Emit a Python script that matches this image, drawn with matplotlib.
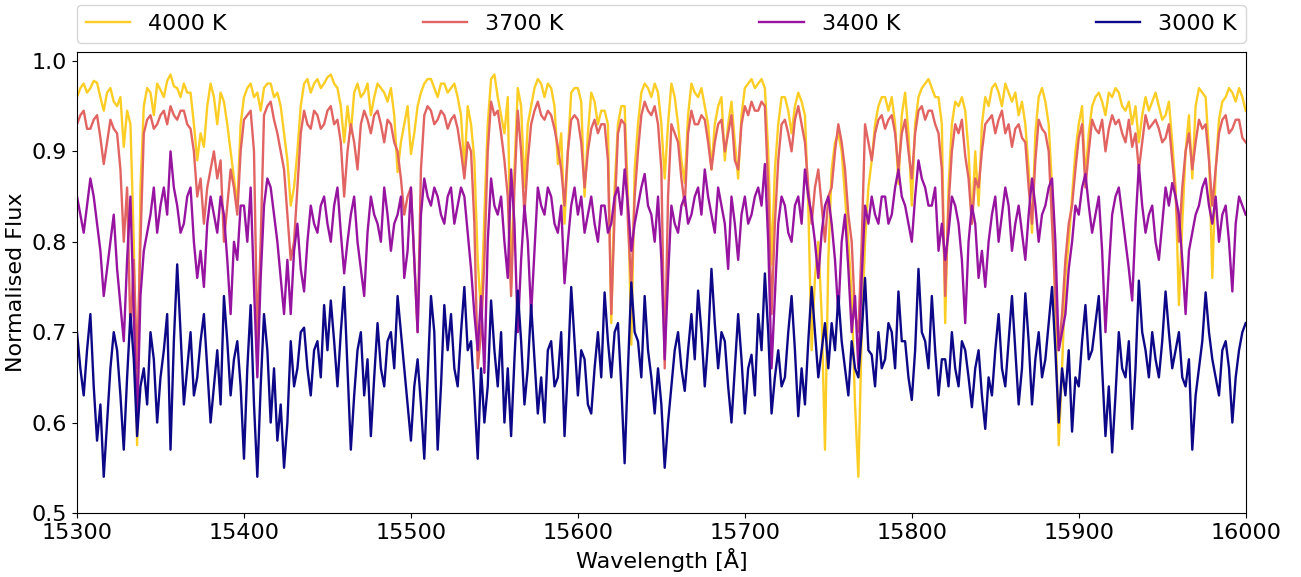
import numpy as np
import matplotlib
matplotlib.use('Agg')
import matplotlib.pyplot as plt

# wavelength grid in Angstrom (2 A step)
wavelength = np.arange(15300, 16001, 2)

labels = ['4000 K', '3700 K', '3400 K', '3000 K']
colors = ['#fccd25', '#e16462', '#9714a0', '#0d0887']

# one row per 100 A
flux_4000 = [
    .96, .97, .975, .965, .97, .978, .976, .96, .945, .965, .97, .955, .95, .96, .905, .945, .93, .80, .575, .86, .95, .97, .965, .94, .975, .968, .96, .978, .985, .972, .97, .96, .975, .965, .965, .93, .89, .92, .905, .95, .975, .96, .93, .965, .955, .93, .90, .87, .84, .93,
    .96, .97, .975, .96, .965, .945, .97, .975, .975, .96, .965, .95, .92, .89, .84, .86, .90, .95, .975, .98, .965, .975, .98, .97, .975, .982, .985, .975, .97, .95, .91, .95, .92, .965, .975, .96, .965, .975, .94, .96, .975, .97, .965, .955, .97, .94, .877, .91, .93, .95,
    .897, .92, .95, .965, .975, .98, .98, .97, .96, .975, .975, .965, .97, .975, .96, .94, .88, .95, .93, .89, .78, .72, .83, .93, .98, .985, .96, .94, .92, .96, .75, .88, .97, .95, .86, .93, .95, .97, .98, .975, .96, .975, .97, .95, .886, .92, .82, .90, .965, .97,
    .97, .955, .85, .92, .965, .955, .93, .945, .945, .93, .71, .86, .93, .95, .95, .85, .686, .88, .93, .965, .975, .97, .96, .975, .965, .93, .87, .93, .975, .96, .93, .89, .865, .94, .975, .965, .96, .97, .95, .93, .88, .93, .95, .96, .89, .93, .955, .91, .87, .94,
    .97, .975, .98, .97, .975, .98, .97, .90, .775, .88, .93, .96, .96, .945, .92, .95, .965, .955, .94, .84, .68, .76, .80, .72, .57, .78, .88, .91, .92, .90, .85, .80, .74, .62, .54, .70, .80, .86, .89, .93, .95, .96, .96, .945, .96, .93, .864, .94, .965, .92,
    .84, .93, .96, .97, .975, .98, .97, .96, .96, .93, .71, .86, .93, .955, .95, .96, .945, .90, .82, .90, .84, .93, .96, .95, .97, .975, .965, .95, .975, .965, .955, .965, .94, .955, .93, .88, .81, .92, .96, .97, .955, .93, .86, .72, .575, .66, .76, .80, .85, .90,
    .93, .95, .87, .92, .95, .96, .965, .955, .94, .965, .96, .97, .965, .95, .945, .955, .93, .95, .91, .94, .96, .945, .955, .965, .95, .935, .94, .955, .91, .86, .73, .82, .90, .94, .87, .95, .97, .965, .96, .90, .76, .88, .935, .955, .96, .97, .965, .955, .97, .96, .945,
]

flux_3700 = [
    .93, .94, .945, .925, .925, .935, .94, .915, .886, .91, .935, .925, .92, .88, .80, .86, .70, .78, .66, .80, .92, .935, .94, .925, .93, .94, .945, .93, .95, .94, .935, .945, .945, .93, .925, .90, .85, .87, .82, .86, .88, .90, .87, .89, .80, .84, .88, .86, .83, .90,
    .935, .94, .945, .90, .69, .80, .94, .95, .955, .935, .92, .90, .88, .83, .78, .80, .86, .92, .945, .93, .925, .945, .94, .925, .93, .945, .95, .93, .935, .91, .85, .90, .93, .91, .88, .93, .945, .935, .92, .94, .945, .93, .91, .935, .93, .91, .90, .87, .83, .85,
    .86, .78, .70, .88, .94, .95, .945, .93, .935, .945, .94, .925, .935, .94, .925, .90, .87, .91, .90, .82, .66, .70, .78, .90, .955, .94, .945, .92, .89, .85, .74, .86, .945, .90, .83, .89, .93, .945, .955, .94, .935, .945, .94, .925, .905, .88, .84, .90, .935, .94,
    .935, .91, .86, .90, .925, .935, .92, .93, .93, .89, .72, .83, .92, .935, .93, .82, .75, .85, .90, .94, .955, .945, .94, .95, .93, .88, .66, .85, .93, .92, .91, .87, .84, .92, .945, .93, .93, .94, .935, .91, .88, .91, .93, .935, .90, .92, .94, .89, .88, .93,
    .95, .94, .955, .945, .945, .955, .95, .86, .72, .82, .89, .93, .935, .92, .90, .935, .95, .93, .91, .86, .82, .86, .88, .84, .80, .85, .86, .90, .93, .91, .88, .83, .80, .72, .70, .80, .93, .91, .89, .92, .935, .94, .925, .935, .94, .92, .88, .92, .935, .90,
    .87, .92, .945, .95, .935, .945, .945, .93, .92, .88, .74, .84, .90, .93, .92, .935, .895, .87, .82, .87, .86, .90, .93, .935, .94, .92, .935, .945, .92, .93, .905, .925, .93, .915, .91, .86, .82, .89, .935, .925, .92, .90, .82, .74, .68, .72, .78, .82, .84, .88,
    .915, .93, .86, .90, .935, .925, .92, .935, .90, .925, .94, .93, .935, .92, .91, .935, .905, .92, .88, .91, .94, .925, .93, .935, .925, .91, .915, .93, .89, .85, .80, .86, .90, .92, .88, .91, .935, .925, .93, .89, .84, .88, .92, .935, .94, .92, .925, .935, .935, .915, .91,
]

flux_3400 = [
    .85, .83, .81, .84, .87, .85, .82, .79, .74, .77, .80, .83, .77, .73, .69, .78, .85, .72, .60, .74, .79, .81, .83, .86, .81, .84, .86, .83, .90, .86, .84, .81, .82, .85, .86, .80, .76, .79, .75, .82, .85, .83, .81, .85, .83, .78, .72, .80, .78, .84,
    .84, .80, .86, .75, .65, .76, .84, .87, .86, .83, .80, .76, .72, .78, .72, .79, .82, .77, .745, .80, .84, .82, .81, .84, .85, .82, .80, .84, .86, .81, .765, .80, .83, .85, .80, .77, .74, .81, .85, .83, .82, .80, .86, .83, .79, .82, .83, .85, .76, .79,
    .86, .78, .70, .83, .87, .85, .84, .86, .85, .83, .82, .85, .86, .82, .84, .86, .85, .81, .77, .72, .68, .74, .655, .80, .87, .84, .83, .85, .80, .76, .88, .82, .70, .78, .84, .80, .72, .79, .86, .84, .83, .86, .85, .82, .81, .84, .754, .80, .84, .86,
    .83, .85, .81, .83, .85, .82, .80, .84, .84, .81, .82, .85, .86, .83, .88, .84, .79, .82, .84, .86, .875, .84, .83, .80, .85, .78, .67, .76, .84, .82, .81, .84, .85, .82, .83, .85, .86, .83, .88, .85, .83, .81, .86, .84, .82, .77, .85, .82, .78, .83,
    .85, .82, .83, .85, .86, .84, .886, .80, .66, .74, .82, .85, .84, .81, .80, .84, .85, .82, .88, .85, .83, .80, .76, .81, .84, .85, .82, .78, .72, .80, .83, .77, .70, .74, .66, .76, .84, .82, .85, .83, .82, .85, .85, .82, .83, .86, .88, .85, .84, .82,
    .80, .85, .89, .87, .86, .84, .84, .86, .79, .82, .78, .81, .85, .84, .82, .78, .71, .80, .84, .82, .76, .79, .75, .80, .83, .85, .80, .83, .86, .84, .79, .82, .84, .81, .78, .83, .87, .84, .80, .83, .84, .86, .87, .80, .68, .70, .72, .77, .80, .84,
    .83, .86, .875, .84, .81, .83, .85, .79, .70, .77, .83, .85, .86, .83, .80, .77, .735, .82, .885, .84, .81, .83, .84, .80, .78, .82, .86, .84, .865, .85, .83, .78, .72, .79, .81, .83, .84, .86, .87, .84, .82, .85, .80, .83, .84, .80, .745, .82, .85, .84, .83,
]

flux_3000 = [
    .70, .66, .63, .68, .72, .64, .58, .62, .54, .60, .66, .70, .68, .63, .57, .65, .72, .67, .585, .64, .66, .62, .70, .67, .60, .65, .68, .72, .57, .69, .775, .70, .62, .66, .70, .63, .65, .69, .72, .66, .60, .64, .68, .62, .74, .69, .63, .67, .69, .64,
    .56, .66, .73, .62, .54, .64, .72, .68, .60, .66, .58, .62, .55, .60, .69, .64, .66, .70, .705, .66, .63, .68, .69, .65, .73, .68, .735, .69, .64, .70, .75, .66, .57, .63, .68, .70, .63, .67, .585, .65, .71, .66, .64, .69, .70, .66, .74, .70, .66, .62,
    .58, .64, .67, .62, .56, .65, .74, .70, .57, .64, .73, .68, .72, .66, .64, .70, .75, .68, .69, .63, .56, .66, .60, .64, .735, .68, .64, .70, .60, .66, .585, .67, .746, .69, .62, .66, .73, .67, .61, .65, .60, .68, .69, .64, .65, .70, .585, .66, .75, .69,
    .63, .68, .67, .62, .61, .66, .70, .65, .744, .69, .65, .70, .71, .64, .555, .66, .755, .70, .69, .65, .74, .68, .65, .61, .66, .62, .55, .60, .64, .68, .70, .66, .635, .68, .72, .67, .746, .70, .64, .69, .77, .71, .66, .70, .69, .64, .60, .66, .72, .67,
    .61, .66, .675, .63, .72, .68, .765, .70, .61, .65, .68, .64, .65, .70, .74, .68, .607, .66, .62, .69, .75, .70, .65, .68, .71, .66, .71, .68, .74, .69, .66, .63, .69, .66, .65, .70, .76, .68, .675, .64, .70, .66, .67, .71, .70, .66, .745, .69, .69, .65,
    .625, .68, .77, .70, .69, .66, .74, .68, .63, .67, .67, .64, .70, .66, .64, .69, .68, .65, .617, .66, .68, .63, .593, .65, .63, .68, .72, .66, .64, .69, .74, .68, .62, .66, .743, .69, .62, .67, .70, .65, .67, .71, .75, .68, .60, .66, .63, .68, .59, .65,
    .64, .69, .73, .67, .68, .71, .74, .66, .585, .64, .567, .63, .70, .66, .65, .69, .593, .66, .757, .70, .68, .65, .70, .67, .65, .69, .745, .70, .66, .68, .70, .65, .64, .67, .57, .63, .66, .69, .744, .70, .67, .65, .63, .68, .69, .66, .60, .65, .68, .70, .71,
]

spectra = [flux_4000, flux_3700, flux_3400, flux_3000]

plt.rcParams['font.size'] = 16

fig = plt.figure(figsize=(13.01, 5.77), dpi=100)
ax = fig.add_axes([0.0592, 0.111, 0.8983, 0.799])

for flux, lab, col in zip(spectra, labels, colors):
    ax.plot(wavelength, flux, color=col, lw=1.7, label=lab)

ax.set_xlim(15300, 16000)
ax.set_ylim(0.5, 1.01)
ax.set_yticks([0.5, 0.6, 0.7, 0.8, 0.9, 1.0])
ax.set_xlabel('Wavelength [Å]')
ax.set_ylabel('Normalised Flux')

ax.legend(bbox_to_anchor=(0, 1.02, 1, 0.102), loc='lower left', ncol=4,
          mode='expand', borderaxespad=0, fontsize=16)

fig.savefig('out.png', dpi=100)
